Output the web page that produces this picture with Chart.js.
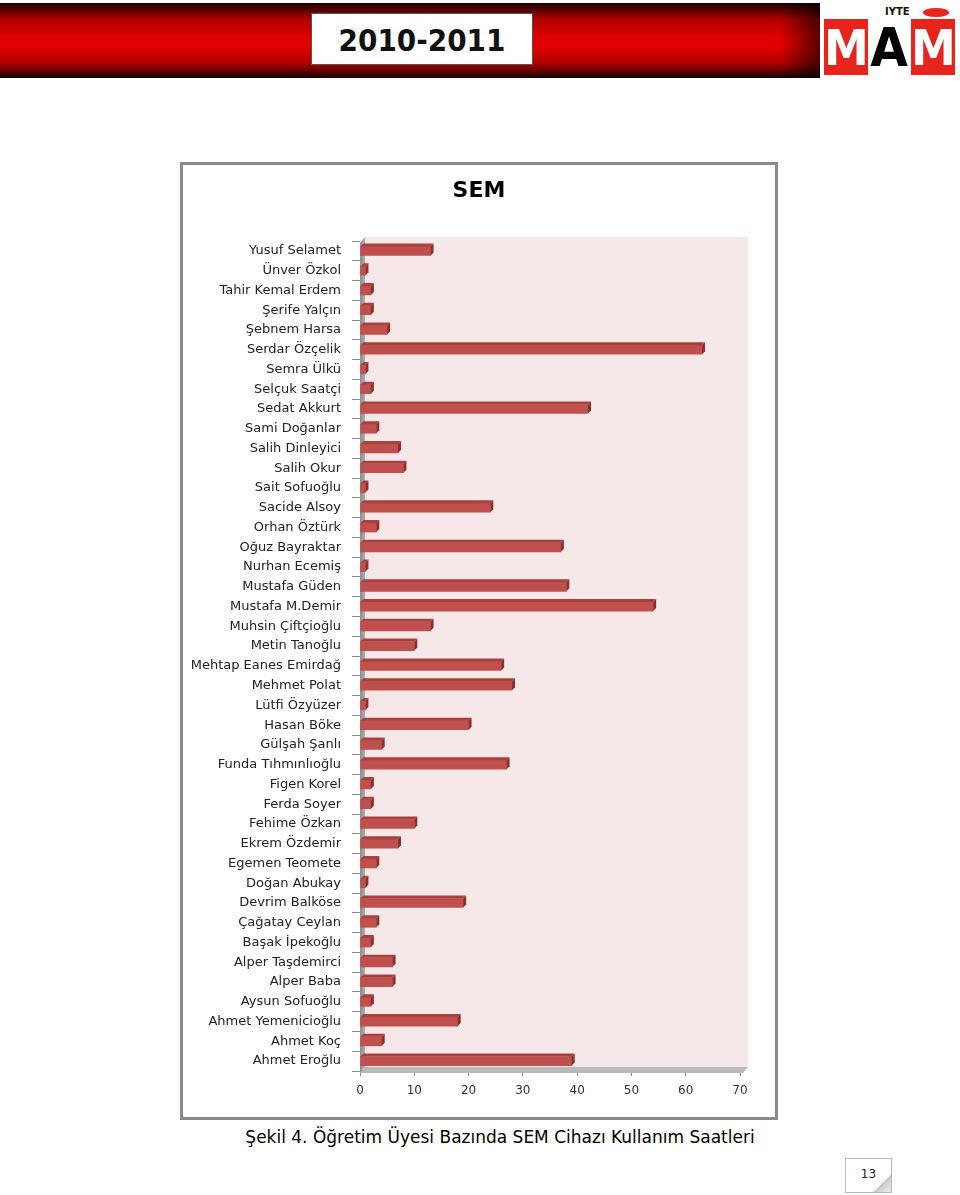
<!DOCTYPE html>
<html>
<head>
<meta charset="utf-8">
<title>SEM Cihazı Kullanım Saatleri</title>
<script src="https://cdn.jsdelivr.net/npm/chart.js@4/dist/chart.umd.min.js"></script>
<style>
    html, body { margin: 0; padding: 0; background: #fff; }
    body { width: 960px; height: 1195px; position: relative; overflow: hidden; font-family: "DejaVu Sans", sans-serif; }
    #band { position: absolute; left: 0; top: 3px; width: 820px; height: 75px;
        background: linear-gradient(to bottom, #1a0000 0%, #b00000 22%, #e00000 45%, #e00000 60%, #b00000 80%, #1a0000 100%); }
    #band:after { content: ""; position: absolute; right: 0; top: 0; width: 40px; height: 100%;
        background: linear-gradient(to right, rgba(0,0,0,0), rgba(0,0,0,0.6)); }
    #year { position: absolute; left: 311px; top: 13px; width: 222px; height: 52px; background: #fff;
        border: 1px solid #555; box-sizing: border-box; text-align: center; line-height: 52px;
        font-family: "DejaVu Sans Condensed", "DejaVu Sans", sans-serif; font-weight: bold; font-size: 31px; color: #111; }
    #logo { position: absolute; left: 823px; top: 3px; width: 133px; height: 75px; background: #fff; overflow: hidden; }
    #logo .m { position: absolute; top: 16px; width: 44px; height: 56px; overflow: hidden; text-align: center;
        font-family: "DejaVu Sans Condensed", sans-serif; font-weight: bold; font-size: 50px; line-height: 58px; color: #fff; background: #e8251c; }
    #logo .a { position: absolute; left: 46px; top: 16px; width: 40px; text-align: center;
        font-family: "DejaVu Sans Condensed", sans-serif; font-weight: bold; font-size: 54px; line-height: 58px; color: #000; }
    #logo .iyte { position: absolute; left: 62px; top: 3px; font-size: 10px; font-weight: bold; color: #111; }
    #logo .dot { position: absolute; left: 100px; top: 5px; width: 26px; height: 9px; border-radius: 50%; background: #e8251c; }
    #box { position: absolute; left: 180px; top: 162px; width: 592px; height: 952px; border: 3px solid #8a8a8a; background: #fff; }
    #title { position: absolute; left: 0; top: 12px; width: 100%; text-align: center; font-weight: bold; font-size: 22px; color: #000; }
    #chart { position: absolute; left: 0; top: 0; }
    #caption { position: absolute; left: 150px; top: 1127px; width: 700px; text-align: center; font-size: 17px; color: #000; }
    #page { position: absolute; left: 845px; top: 1158px; width: 47px; height: 35px; border: 1px solid #bbb; box-sizing: border-box;
        text-align: center; font-size: 12px; line-height: 30px; color: #222;
        background: linear-gradient(135deg, #fff 78%, #c8c8c8 78%, #eee 100%); }
</style>
</head>
<body>
<div id="band"></div>
<div id="year">2010-2011</div>
<div id="logo">
    <span class="m" style="left:1px;">M</span>
    <span class="a">A</span>
    <span class="m" style="left:88px;">M</span>
    <span class="iyte">IYTE</span>
    <span class="dot"></span>
</div>
<div id="box">
    <canvas id="chart" width="592" height="952"></canvas>
    <div id="title">SEM</div>
</div>
<div id="caption">Şekil 4. Öğretim Üyesi Bazında SEM Cihazı Kullanım Saatleri</div>
<div id="page">13</div>

<script>
// --- Veriler (yukarıdan aşağıya)
var names = [
    'Yusuf Selamet', 'Ünver Özkol', 'Tahir Kemal Erdem', 'Şerife Yalçın', 'Şebnem Harsa',
    'Serdar Özçelik', 'Semra Ülkü', 'Selçuk Saatçi', 'Sedat Akkurt', 'Sami Doğanlar',
    'Salih Dinleyici', 'Salih Okur', 'Sait Sofuoğlu', 'Sacide Alsoy', 'Orhan Öztürk',
    'Oğuz Bayraktar', 'Nurhan Ecemiş', 'Mustafa Güden', 'Mustafa M.Demir', 'Muhsin Çiftçioğlu',
    'Metin Tanoğlu', 'Mehtap Eanes Emirdağ', 'Mehmet Polat', 'Lütfi Özyüzer', 'Hasan Böke',
    'Gülşah Şanlı', 'Funda Tıhmınlıoğlu', 'Figen Korel', 'Ferda Soyer', 'Fehime Özkan',
    'Ekrem Özdemir', 'Egemen Teomete', 'Doğan Abukay', 'Devrim Balköse', 'Çağatay Ceylan',
    'Başak İpekoğlu', 'Alper Taşdemirci', 'Alper Baba', 'Aysun Sofuoğlu', 'Ahmet Yemenicioğlu',
    'Ahmet Koç', 'Ahmet Eroğlu'
];
var hours = [
    13, 1, 2, 2, 5,
    63, 1, 2, 42, 3,
    7, 8, 1, 24, 3,
    37, 1, 38, 54, 13,
    10, 26, 28, 1, 20,
    4, 27, 2, 2, 10,
    7, 3, 1, 19, 3,
    2, 6, 6, 2, 18,
    4, 39
];
var xTicks = [0, 10, 20, 30, 40, 50, 60, 70];

var barFront = '#c0504d';
var barTop = '#a8403d';
var barSide = '#8c302e';

// Arka duvar, sol duvar ve taban (3B görünüm)
var wallsPlugin = {
    id: 'walls',
    beforeDatasetsDraw: function (chart) {
        var ctx = chart.ctx;
        var a = chart.chartArea;
        ctx.save();
        // arka duvar
        ctx.fillStyle = '#f6e7e9';
        ctx.fillRect(a.left + 5, a.top - 4, a.right - a.left + 3, a.bottom - a.top);
        // sol duvar
        var g = ctx.createLinearGradient(a.left, 0, a.left + 6, 0);
        g.addColorStop(0, '#8d8d8d');
        g.addColorStop(1, '#b5b5b5');
        ctx.fillStyle = g;
        ctx.beginPath();
        ctx.moveTo(a.left, a.top + 2);
        ctx.lineTo(a.left + 5, a.top - 4);
        ctx.lineTo(a.left + 5, a.bottom - 4);
        ctx.lineTo(a.left, a.bottom + 2);
        ctx.closePath();
        ctx.fill();
        // taban
        ctx.fillStyle = '#b9b9b9';
        ctx.beginPath();
        ctx.moveTo(a.left, a.bottom + 2);
        ctx.lineTo(a.right + 3, a.bottom + 2);
        ctx.lineTo(a.right + 8, a.bottom - 4);
        ctx.lineTo(a.left + 5, a.bottom - 4);
        ctx.closePath();
        ctx.fill();
        ctx.restore();
    }
};

// Çubuklara üst ve yan yüz ekle
var depthPlugin = {
    id: 'depth',
    afterDatasetsDraw: function (chart) {
        var ctx = chart.ctx;
        var d = 3;
        ctx.save();
        chart.getDatasetMeta(0).data.forEach(function (bar) {
            var p = bar.getProps(['x', 'y', 'base', 'height'], true);
            var top = p.y - p.height / 2;
            var bottom = p.y + p.height / 2;
            ctx.fillStyle = barTop;
            ctx.beginPath();
            ctx.moveTo(p.base, top);
            ctx.lineTo(p.x, top);
            ctx.lineTo(p.x + d, top - d);
            ctx.lineTo(p.base + d, top - d);
            ctx.closePath();
            ctx.fill();
            ctx.fillStyle = barSide;
            ctx.beginPath();
            ctx.moveTo(p.x, top);
            ctx.lineTo(p.x + d, top - d);
            ctx.lineTo(p.x + d, bottom - d);
            ctx.lineTo(p.x, bottom);
            ctx.closePath();
            ctx.fill();
        });
        ctx.restore();
    }
};

var ctx = document.getElementById('chart').getContext('2d');
new Chart(ctx, {
    type: 'bar',
    data: {
        labels: names,
        datasets: [{
            data: hours,
            backgroundColor: barFront,
            borderWidth: 0,
            barThickness: 9
        }]
    },
    plugins: [wallsPlugin, depthPlugin],
    options: {
        indexAxis: 'y',
        responsive: false,
        animation: false,
        layout: { padding: { top: 76, right: 35, bottom: 0, left: 0 } },
        plugins: {
            legend: { display: false },
            tooltip: { enabled: false }
        },
        scales: {
            x: {
                min: 0,
                max: 70,
                afterBuildTicks: function (scale) {
                    scale.ticks = xTicks.map(function (v) { return { value: v }; });
                },
                afterFit: function (scale) { scale.height = 46; },
                grid: { drawOnChartArea: false, tickLength: 5, color: '#8a8a8a' },
                border: { display: true, color: '#8a8a8a' },
                ticks: { padding: 8, color: '#333', font: { family: 'DejaVu Sans', size: 12 } }
            },
            y: {
                afterFit: function (scale) { scale.width = 177; },
                grid: { drawOnChartArea: false, tickLength: 8, color: '#8a8a8a', offset: true },
                border: { display: false },
                ticks: { padding: 11, color: '#222', autoSkip: false, font: { family: 'DejaVu Sans', size: 13 } }
            }
        }
    }
});
</script>
</body>
</html>
